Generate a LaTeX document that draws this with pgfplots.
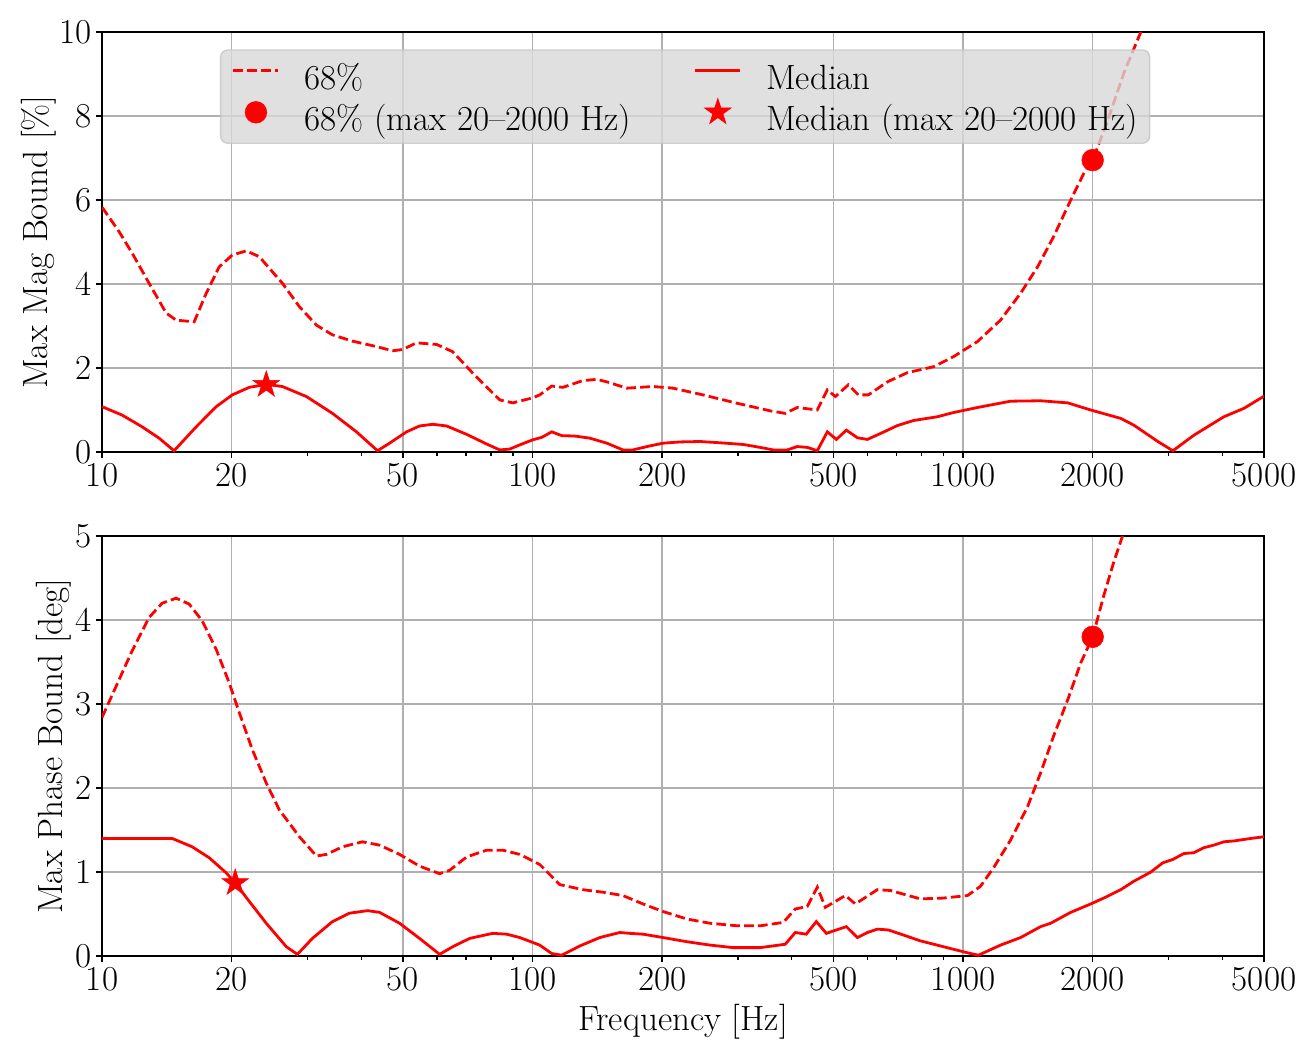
\documentclass[border=0pt]{standalone}
\usepackage{pgfplots}
\pgfplotsset{compat=1.18}
\definecolor{legfill}{RGB}{216,216,216}
\definecolor{legedge}{RGB}{196,196,196}
\definecolor{gridgray}{RGB}{176,176,176}

\pgfdeclareplotmark{fstar}{%
  \pgfpathmoveto{\pgfpointpolar{90}{\pgfplotmarksize}}%
  \pgfpathlineto{\pgfpointpolar{126}{0.382*\pgfplotmarksize}}%
  \pgfpathlineto{\pgfpointpolar{162}{\pgfplotmarksize}}%
  \pgfpathlineto{\pgfpointpolar{198}{0.382*\pgfplotmarksize}}%
  \pgfpathlineto{\pgfpointpolar{234}{\pgfplotmarksize}}%
  \pgfpathlineto{\pgfpointpolar{270}{0.382*\pgfplotmarksize}}%
  \pgfpathlineto{\pgfpointpolar{306}{\pgfplotmarksize}}%
  \pgfpathlineto{\pgfpointpolar{342}{0.382*\pgfplotmarksize}}%
  \pgfpathlineto{\pgfpointpolar{18}{\pgfplotmarksize}}%
  \pgfpathlineto{\pgfpointpolar{54}{0.382*\pgfplotmarksize}}%
  \pgfpathclose
  \pgfusepathqfillstroke
}

\pgfplotsset{
  lineleg/.style={legend image code/.code={\draw[##1, sharp corners, draw opacity=1] (0pt,3pt) -- (25.7pt,3pt);}},
  markleg/.style={legend image code/.code={\draw[##1, sharp corners, draw opacity=1, fill opacity=1] plot coordinates {(12.85pt,3pt)};}},
}

\pgfplotstableread{
f v
10 5.83
10.95 5.25
11.74 4.74
12.86 4.02
14.09 3.31
14.86 3.14
16.37 3.10
17.46 3.78
18.72 4.41
20.07 4.69
21.63 4.79
23.19 4.65
26.23 4.02
28.74 3.46
31.48 3.02
34.30 2.79
38.17 2.64
43.41 2.51
47.29 2.41
49.89 2.44
53.77 2.60
59.88 2.56
65.21 2.39
72.61 1.88
83.89 1.24
89.95 1.17
100.1 1.29
103.9 1.36
110.8 1.57
117.6 1.54
130.8 1.70
141.0 1.73
148.8 1.67
165.6 1.52
190.4 1.56
211.9 1.52
248.9 1.36
298.7 1.16
356.5 0.98
386.3 0.92
411.9 1.06
458.5 1.00
483.8 1.48
505.0 1.32
541.3 1.60
571.2 1.36
602.6 1.36
667.1 1.67
742.6 1.89
853.4 2.03
949.9 2.27
1079.9 2.63
1221.7 3.14
1360.0 3.78
1489.7 4.41
1623.0 5.13
1778.3 6.00
1906.6 6.63
2000 6.95
2167.8 7.90
2361.6 9.02
2587.0 10.00
2750 10.8
}\topdash

\pgfplotstableread{
f v
10 1.08
11.13 0.88
12.39 0.60
13.57 0.33
14.70 0.03
16.55 0.60
18.42 1.08
20.07 1.36
21.98 1.54
24.07 1.61
26.23 1.56
29.84 1.32
34.30 0.92
39.00 0.48
43.64 0.03
46.54 0.21
50.97 0.48
54.64 0.62
58.61 0.66
63.15 0.62
70.31 0.42
78.25 0.19
83.89 0.05
88.52 0.07
93.38 0.17
100.1 0.29
105.1 0.35
110.8 0.48
116.9 0.39
125.3 0.38
135.8 0.33
148.8 0.21
162.1 0.05
171.0 0.05
184.4 0.13
200.9 0.21
220.0 0.24
244.9 0.25
272.6 0.22
308.4 0.18
337.9 0.11
362.2 0.05
390.4 0.05
411.9 0.13
434.6 0.11
458.5 0.03
483.8 0.48
507.7 0.30
535.6 0.52
568.1 0.34
599.3 0.30
642.6 0.44
703.8 0.63
766.8 0.75
871.9 0.84
949.9 0.94
1079.9 1.06
1289.0 1.21
1513.8 1.22
1750.0 1.17
1979.5 1.00
2324.0 0.80
2491.7 0.64
2833.5 0.25
3070.9 0.03
3436.1 0.40
4034.5 0.84
4491.0 1.04
5000 1.33
}\topmed

\pgfplotstableread{
f v
10 2.84
10.78 3.21
11.74 3.63
12.86 4.03
13.79 4.20
14.86 4.26
15.94 4.19
17.09 3.99
18.42 3.65
19.75 3.25
20.83 2.90
22.33 2.46
24.07 2.06
25.81 1.74
28.74 1.42
31.48 1.19
33.21 1.21
36.18 1.30
40.27 1.36
44.11 1.32
49.10 1.21
54.64 1.07
60.83 0.98
64.17 1.02
70.31 1.18
78.25 1.26
85.26 1.26
93.38 1.21
103.9 1.09
115.7 0.85
130.8 0.79
145.6 0.76
162.1 0.72
180.5 0.62
200.9 0.53
228.5 0.44
258.4 0.39
298.7 0.36
337.9 0.36
382.2 0.40
407.6 0.56
434.6 0.59
458.5 0.82
478.6 0.58
532.7 0.72
562.0 0.62
632.3 0.79
677.9 0.78
796.1 0.68
900.3 0.69
1023.8 0.72
1097.4 0.83
1176.7 1.05
1289.0 1.38
1412.0 1.78
1513.8 2.18
1623.0 2.62
1750.0 3.05
1876.2 3.49
2000 3.80
2121.8 4.29
2238.4 4.69
2348.9 5.01
2450 5.35
}\botdash

\pgfplotstableread{
f v
10 1.40
11.74 1.40
14.55 1.40
16.20 1.30
17.74 1.17
19.43 0.99
20.39 0.87
21.98 0.65
24.07 0.39
26.80 0.11
28.43 0.02
30.81 0.21
34.30 0.41
37.56 0.51
41.37 0.54
44.11 0.52
49.10 0.39
54.64 0.21
60.83 0.02
65.21 0.11
71.45 0.21
80.81 0.27
87.11 0.26
93.38 0.22
103.9 0.13
110.8 0.03
116.9 0.01
128.8 0.12
143.3 0.22
159.5 0.28
168.3 0.27
180.5 0.26
200.9 0.22
228.5 0.17
258.4 0.13
292.4 0.10
337.9 0.10
386.3 0.14
407.6 0.28
432.3 0.26
456.1 0.41
481.2 0.27
535.6 0.35
568.1 0.22
599.3 0.28
632.3 0.32
670.7 0.31
726.8 0.25
796.1 0.18
886.0 0.12
949.9 0.08
1040.4 0.03
1085.8 0.01
1221.7 0.13
1360.0 0.22
1513.8 0.35
1597.1 0.39
1778.3 0.52
1979.5 0.62
2121.8 0.69
2324.0 0.79
2491.7 0.89
2729.3 1.00
2910.5 1.11
3070.9 1.15
3257.2 1.22
3436.1 1.23
3625.3 1.29
3824.0 1.32
4034.5 1.36
4256.8 1.37
4662.8 1.40
5000 1.42
}\botmed

\begin{document}
\begin{tikzpicture}[font=\fontsize{20}{24}\selectfont]
\begin{axis}[name=bot, at={(0pt,0pt)}, anchor=south west,
    scale only axis, width=664pt, height=240pt,
    xmode=log, xmin=10, xmax=5000,
    xtick={10,20,50,100,200,500,1000,2000,5000},
    xticklabels={10,20,50,100,200,500,1000,2000,5000},
    minor xtick={30,40,60,70,80,90,300,400,600,700,800,900,3000,4000},
    tick pos=left, tick align=outside,
    major tick length=3.5pt, minor tick length=2pt,
    every tick/.append style={black, line width=0.8pt},
    grid=major, major grid style={gridgray, line width=0.8pt},
    axis line style={line width=0.9pt},
    /pgf/number format/assume math mode=true,
    xticklabel style={inner sep=3pt},
    yticklabel style={inner sep=2.5pt},
    ylabel style={inner sep=2pt}, ylabel shift=-2.5pt,
    xlabel style={inner sep=4pt},
  ymin=0, ymax=5, ytick={0,1,2,3,4,5},
  ylabel={Max Phase Bound [deg]}, xlabel={Frequency [Hz]}]
  \addplot[red, line width=1.6pt, dash pattern=on 5.55pt off 2.4pt] table[x=f,y=v] {\botdash};
  \addplot[red, line width=1.6pt] table[x=f,y=v] {\botmed};
  \addplot[only marks, mark=*, mark size=6.2pt, red, mark options={solid, line width=0.3pt, fill=red}] coordinates {(2000,3.80)};
  \addplot[only marks, mark=fstar, mark size=8pt, red, mark options={solid, line width=0.3pt, fill=red}] coordinates {(20.39,0.87)};
\end{axis}
\begin{axis}[name=top, at={(0pt,288pt)}, anchor=south west,
    scale only axis, width=664pt, height=240pt,
    xmode=log, xmin=10, xmax=5000,
    xtick={10,20,50,100,200,500,1000,2000,5000},
    xticklabels={10,20,50,100,200,500,1000,2000,5000},
    minor xtick={30,40,60,70,80,90,300,400,600,700,800,900,3000,4000},
    tick pos=left, tick align=outside,
    major tick length=3.5pt, minor tick length=2pt,
    every tick/.append style={black, line width=0.8pt},
    grid=major, major grid style={gridgray, line width=0.8pt},
    axis line style={line width=0.9pt},
    /pgf/number format/assume math mode=true,
    xticklabel style={inner sep=3pt},
    yticklabel style={inner sep=2.5pt},
    ylabel style={inner sep=2pt}, ylabel shift=-3pt,
  ymin=0, ymax=10, ytick={0,2,4,6,8,10},
  ylabel={Max Mag Bound [\%]},
  legend columns=2, legend cell align=left,
  legend style={
    at={(0.1015,0.9588)}, anchor=north west,
    fill=legfill, fill opacity=0.8, draw=legedge, draw opacity=0.8, text opacity=1,
    rounded corners=4pt, line width=0.8pt,
    inner xsep=6.5pt, inner ysep=5.5pt,
    row sep=3.8pt, column sep=0pt,
    nodes={inner sep=0pt},
    /tikz/every odd column/.append style={column sep=14pt},
    /tikz/every even column/.append style={column sep=36pt},
  }]
  \addplot[red, line width=1.6pt, dash pattern=on 5.55pt off 2.4pt, lineleg] table[x=f,y=v] {\topdash};
  \addlegendentry{\strut 68\%}
  \addplot[red, line width=1.6pt, lineleg] table[x=f,y=v] {\topmed};
  \addlegendentry{\strut Median}
  \addplot[only marks, mark=*, mark size=6.2pt, red, mark options={solid, line width=0.3pt, fill=red}, markleg] coordinates {(2000,6.95)};
  \addlegendentry{\strut 68\% (max 20--2000 Hz)}
  \addplot[only marks, mark=fstar, mark size=8pt, red, mark options={solid, line width=0.3pt, fill=red}, markleg] coordinates {(24.07,1.60)};
  \addlegendentry{\strut Median (max 20--2000 Hz)}
\end{axis}
\pgfresetboundingbox
\useasboundingbox ([xshift=-58.3pt,yshift=-57.7pt]bot.south west) rectangle ([xshift=29.7pt,yshift=18.3pt]top.north east);
\end{tikzpicture}
\end{document}
